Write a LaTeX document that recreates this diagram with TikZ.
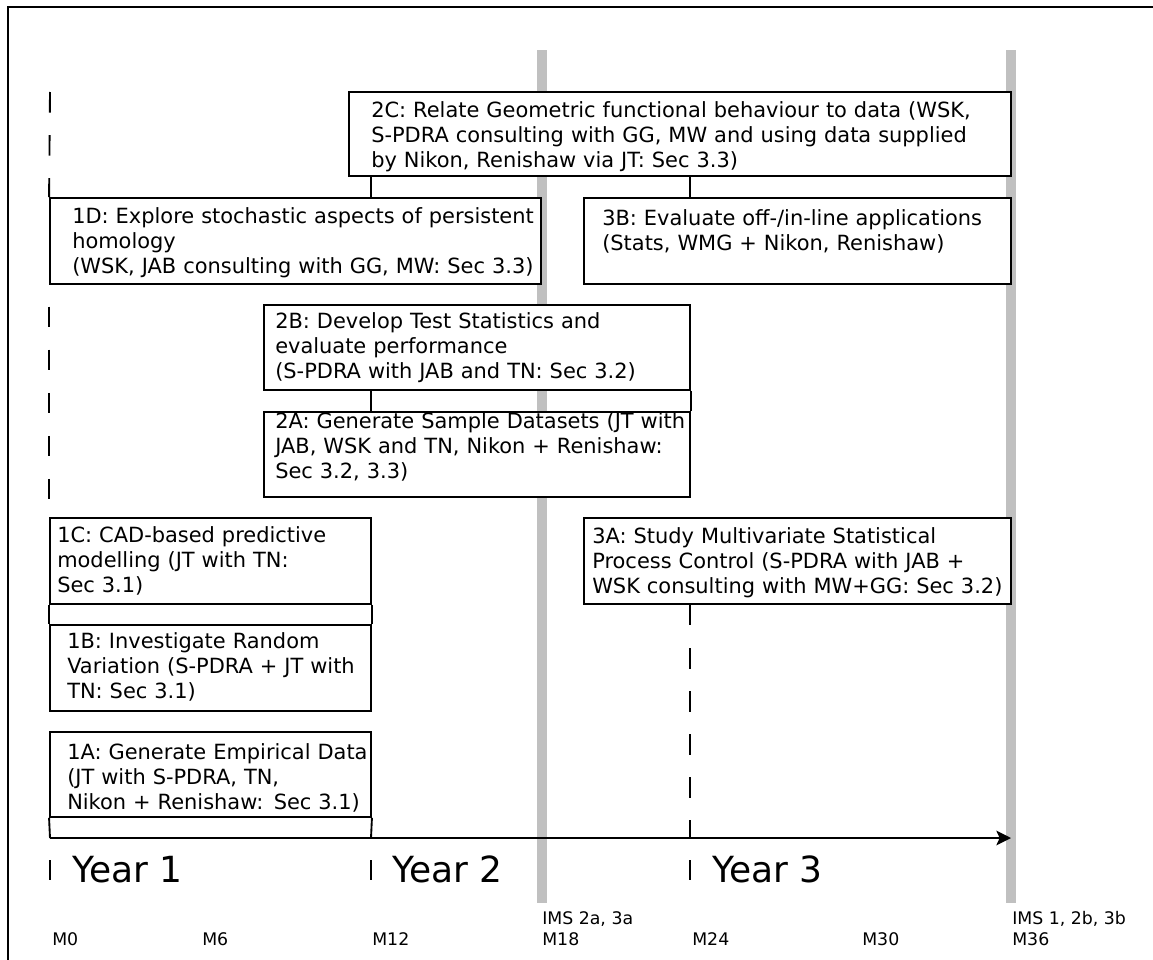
\documentclass[tikz,border=0pt]{standalone}
\usepackage{fontspec}
\setmainfont{DejaVu Sans}
\usetikzlibrary{arrows.meta,calc,fit}
\newcommand{\boxfont}{\fontsize{15.7pt}{18.75pt}\selectfont}
\newcommand{\yearfont}{\fontsize{27pt}{31pt}\selectfont}
\newcommand{\lblfont}{\fontsize{13pt}{15pt}\selectfont}
\definecolor{bargray}{HTML}{C0C0C0}
\tikzset{
  wbox/.style={draw=black, fill=white, line width=1.4pt, inner sep=0pt},
  btxt/.style={anchor=base west, inner sep=0pt, align=left, text width=480pt, font=\boxfont},
  conn/.style={draw=black, line width=1.4pt},
  dashconn/.style={draw=black, line width=1.4pt, dash pattern=on 15.4pt off 16.9pt},
  barline/.style={draw=bargray, line width=7.5pt},
  frameline/.style={draw=black, line width=1.5pt},
  tickline/.style={draw=black, line width=1.4pt},
  axisline/.style={draw=black, line width=1.4pt, -{Stealth[length=11pt,width=11pt,inset=2.5pt]}},
  yearlbl/.style={anchor=base west, inner sep=0pt, font=\yearfont},
  mlbl/.style={anchor=base west, inner sep=0pt, font=\lblfont},
}
\begin{document}
\begin{tikzpicture}[x=0.75pt,y=-0.75pt]
\useasboundingbox (0,0) rectangle (1153,960);
% frame
\draw[frameline] (8,960) -- (8,7) -- (1153,7);
% milestone bars
\coordinate (bar18t) at (541.5,50); \coordinate (bar18b) at (541.5,903);
\coordinate (bar36t) at (1011,50); \coordinate (bar36b) at (1011,903);
\draw[barline] (bar18t) -- (bar18b);
\draw[barline] (bar36t) -- (bar36b);
% axis coordinates
\coordinate (m0) at (50,838);
\coordinate (m12) at (371,838);
\coordinate (m24) at (690,838);
\coordinate (axend) at (1011,838);
\coordinate (top0) at (50,92);
% boxes
\node[wbox, fit={(349,92)(1011,176)}] (b2C) {};
\node[wbox, fit={(50,198)(541,284)}] (b1D) {};
\node[wbox, fit={(584,198)(1011,284)}] (b3B) {};
\node[wbox, fit={(264,305)(690,390)}] (b2B) {};
\node[wbox, fit={(264,412)(690,497)}] (b2A) {};
\node[wbox, fit={(50,518)(371,604)}] (b1C) {};
\node[wbox, fit={(50,625)(371,711)}] (b1B) {};
\node[wbox, fit={(50,732)(371,817)}] (b1A) {};
\node[wbox, fit={(584,518)(1011,604)}] (b3A) {};
% box texts
\node[btxt] (t2C) at (371,117) {2C: Relate Geometric functional behaviour to data (WSK,\\S-PDRA consulting with GG, MW and using data supplied\\by Nikon, Renishaw via JT: Sec 3.3)};
\node[btxt] (t1D) at (72,223) {1D: Explore stochastic aspects of persistent\\homology\\(WSK, JAB consulting with GG, MW: Sec 3.3)};
\node[btxt] (t3B) at (602,225) {3B: Evaluate off-/in-line applications\\(Stats, WMG + Nikon, Renishaw)};
\node[btxt] (t2B) at (275,328) {2B: Develop Test Statistics and\\evaluate performance\\(S-PDRA with JAB and TN: Sec 3.2)};
\node[btxt] (t2A) at (275,428) {2A: Generate Sample Datasets (JT with\\JAB, WSK and TN, Nikon + Renishaw:\\Sec 3.2, 3.3)};
\node[btxt] (t1C) at (57,542) {1C: CAD-based predictive\\modelling (JT with TN:\\Sec 3.1)};
\node[btxt] (t1B) at (67,648) {1B: Investigate Random\\Variation (S-PDRA + JT with\\TN: Sec 3.1)};
\node[btxt] (t1A) at (67,759) {1A: Generate Empirical Data\\(JT with S-PDRA, TN,\\Nikon + Renishaw: Sec 3.1)};
\node[btxt] (t3A) at (592,543) {3A: Study Multivariate Statistical\\Process Control (S-PDRA with JAB +\\WSK consulting with MW+GG: Sec 3.2)};
% connectors
\draw[conn] (b2C.south -| m12) -- (b1D.north -| m12);
\draw[conn] (b2C.south -| m24) -- (b3B.north -| m24);
\draw[conn] (b2B.south -| m12) -- (b2A.north -| m12);
\draw[conn] (b2B.south east) -- (b2A.north east);
\draw[conn] (b1C.south west) -- (b1B.north west);
\draw[conn] (b1C.south east) -- (b1B.north east);
\draw[conn] (b1A.south west) -- (m0);
\draw[conn] (b1A.south east) -- (m12);
\draw[dashconn] (top0) -- (b1D.north west);
\draw[dashconn, dash phase=16pt] (b1D.south west) -- (b1C.north west);
\draw[dashconn] (b3A.south -| m24) -- (m24);
\draw[axisline] (m0) -- (axend);
% year ticks
\draw[tickline] (50,860) -- (50,880);
\draw[tickline] (371,860) -- (371,880);
\draw[tickline] (690,860) -- (690,880);
\node[yearlbl] (y1) at (72,882) {Year 1};
\node[yearlbl] (y2) at (392,882) {Year 2};
\node[yearlbl] (y3) at (712,882) {Year 3};
% month labels
\node[mlbl] (lm0) at (52,945) {M0};
\node[mlbl] (lm6) at (202,945) {M6};
\node[mlbl] (lm12) at (372,945) {M12};
\node[mlbl] (lm18) at (542,945) {M18};
\node[mlbl] (lm24) at (692,945) {M24};
\node[mlbl] (lm30) at (862,945) {M30};
\node[mlbl] (lm36) at (1012,945) {M36};
\node[mlbl] (ims1) at (542,924) {IMS 2a, 3a};
\node[mlbl] (ims2) at (1012,924) {IMS 1, 2b, 3b};
\end{tikzpicture}
\end{document}
